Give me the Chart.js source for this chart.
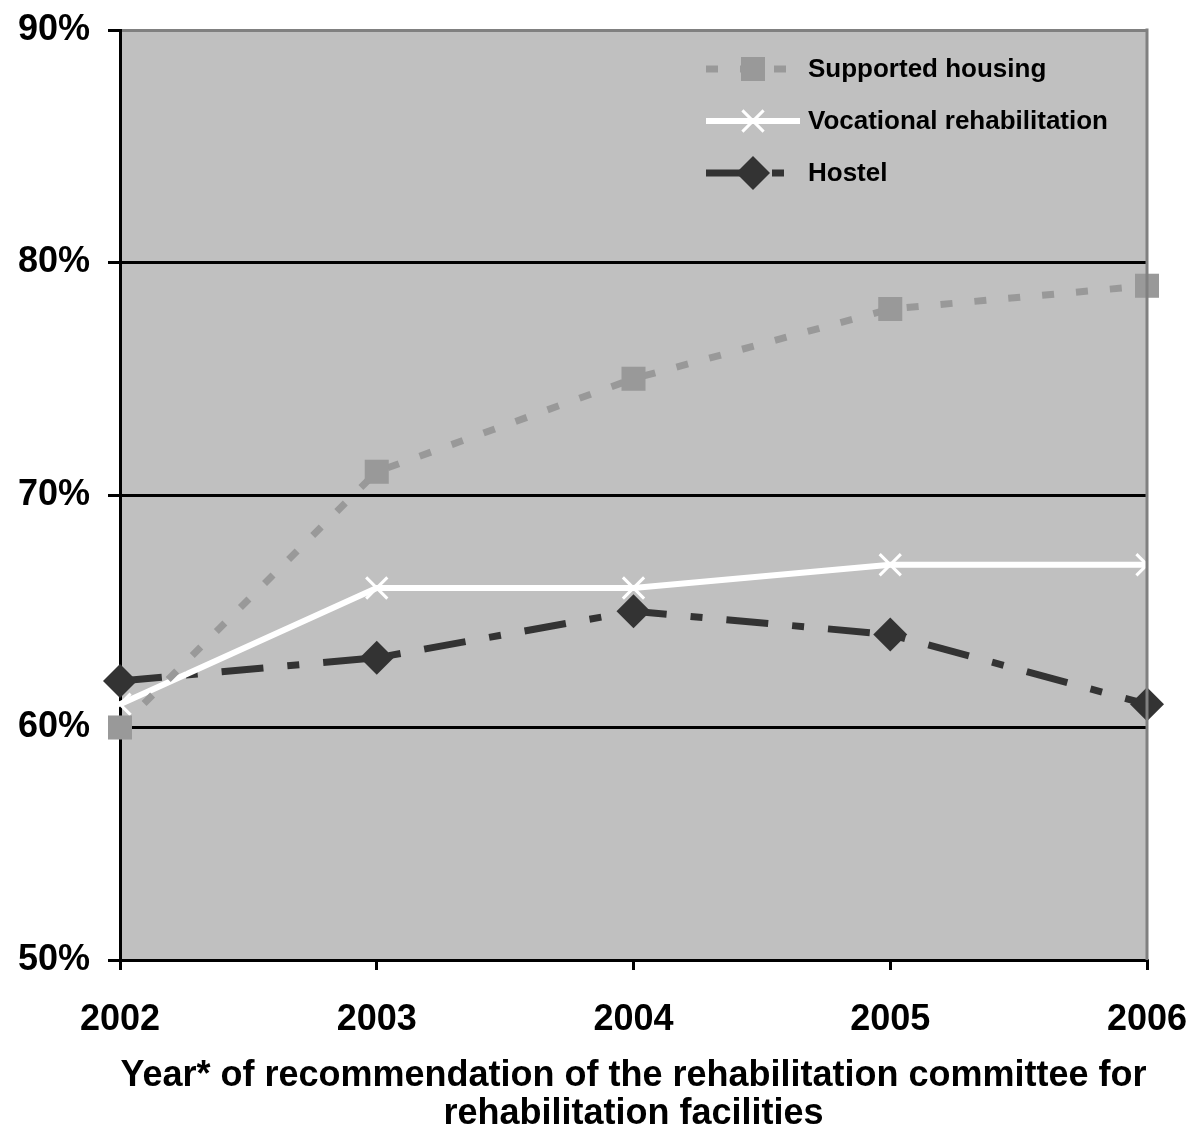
<!DOCTYPE html>
<html>
<head>
<meta charset="utf-8">
<script src="https://cdn.jsdelivr.net/npm/chart.js@4.4.0/dist/chart.umd.min.js"></script>
<style>
  html, body { margin: 0; padding: 0; background: #fff; }
  #wrap { width: 1200px; height: 1148px; }
</style>
</head>
<body>
<div id="wrap"><canvas id="chart" width="1200" height="1148"></canvas></div>
<script>
// ==========================================
// DATA
// ==========================================
const years = ['2002', '2003', '2004', '2005', '2006'];

const supported_housing = [60, 71, 75, 78, 79];
const vocational_rehab  = [61, 66, 66, 67, 67];
const hostel            = [62, 63, 65, 64, 61];

const seriesNames = ['Supported housing', 'Vocational rehabilitation', 'Hostel'];
const yTicks = [50, 60, 70, 80, 90];

const axisTitle = ['Year* of recommendation of the rehabilitation committee for', 'rehabilitation facilities'];

const FONT = 'Liberation Sans, Arial, sans-serif';

// grey plot background + grey right border
const plotBg = {
    id: 'plotBg',
    beforeDraw(chart) {
        const { ctx, chartArea: a } = chart;
        ctx.save();
        ctx.fillStyle = '#c0c0c0';
        ctx.fillRect(a.left, a.top, a.right - a.left, a.bottom - a.top);
        ctx.restore();
    },
    afterDatasetsDraw(chart) {
        const { ctx, chartArea: a } = chart;
        ctx.save();
        ctx.strokeStyle = '#808080';
        ctx.lineWidth = 3;
        ctx.beginPath();
        ctx.moveTo(a.right, a.top - 1.5);
        ctx.lineTo(a.right, a.bottom);
        ctx.stroke();
        ctx.restore();
    }
};

// legend drawn inside the plot, top right
const innerLegend = {
    id: 'innerLegend',
    afterDraw(chart) {
        const { ctx } = chart;
        const x0 = 706, x1 = 800, tx = 808;
        const ys = [69, 121, 173];
        chart.data.datasets.forEach((ds, i) => {
            const y = ys[i];
            ctx.save();
            ctx.strokeStyle = ds.borderColor;
            ctx.lineWidth = ds.borderWidth;
            ctx.setLineDash(ds.borderDash || []);
            ctx.beginPath();
            ctx.moveTo(x0, y);
            ctx.lineTo(x1, y);
            ctx.stroke();
            ctx.setLineDash([]);
            ctx.fillStyle = ds.pointBackgroundColor || ds.borderColor;
            ctx.strokeStyle = ds.pointBorderColor || ds.borderColor;
            ctx.lineWidth = ds.pointBorderWidth;
            Chart.helpers.drawPoint(ctx, {
                pointStyle: ds.pointStyle,
                radius: ds.pointRadius,
                borderWidth: ds.pointBorderWidth
            }, (x0 + x1) / 2, y);
            ctx.fillStyle = '#000';
            ctx.font = 'bold 26px ' + FONT;
            ctx.textBaseline = 'middle';
            ctx.fillText(ds.label, tx, y + 1);
            ctx.restore();
        });
    }
};

const chart = new Chart(document.getElementById('chart'), {
    type: 'line',
    data: {
        labels: years,
        datasets: [
            {
                label: seriesNames[0],
                data: supported_housing,
                borderColor: '#999999',
                backgroundColor: '#999999',
                borderWidth: 7,
                borderDash: [12, 22],
                pointStyle: 'rect',
                pointRadius: 17,
                pointBorderWidth: 0,
                pointBackgroundColor: '#999999',
                pointBorderColor: '#999999',
                tension: 0
            },
            {
                label: seriesNames[1],
                data: vocational_rehab,
                borderColor: '#ffffff',
                backgroundColor: '#ffffff',
                borderWidth: 6,
                pointStyle: 'crossRot',
                pointRadius: 15,
                pointBorderWidth: 3,
                pointBackgroundColor: '#ffffff',
                pointBorderColor: '#ffffff',
                tension: 0
            },
            {
                label: seriesNames[2],
                data: hostel,
                borderColor: '#333333',
                backgroundColor: '#333333',
                borderWidth: 7,
                borderDash: [42, 24, 12, 24],
                pointStyle: 'rectRot',
                pointRadius: 17,
                pointBorderWidth: 0,
                pointBackgroundColor: '#333333',
                pointBorderColor: '#333333',
                tension: 0
            }
        ]
    },
    options: {
        responsive: false,
        animation: false,
        layout: { autoPadding: false, padding: { top: 30, right: 53, left: 0, bottom: 0 } },
        plugins: {
            legend: { display: false },
            tooltip: { enabled: false }
        },
        scales: {
            x: {
                type: 'category',
                offset: false,
                grid: {
                    drawOnChartArea: false,
                    drawTicks: true,
                    tickLength: 10,
                    color: '#000',
                    lineWidth: 3
                },
                border: { color: '#000', width: 3 },
                ticks: {
                    color: '#000',
                    padding: 28,
                    maxRotation: 0,
                    font: { family: FONT, size: 36, weight: 'bold' }
                },
                title: {
                    display: true,
                    text: axisTitle,
                    color: '#000',
                    padding: { top: 10, bottom: 14 },
                    font: { family: FONT, size: 36, weight: 'bold', lineHeight: 1.08 }
                },
                afterFit(scale) {
                    scale.height = 188;
                    scale.paddingLeft = 0;
                    scale.paddingRight = 0;
                }
            },
            y: {
                min: 50,
                max: 90,
                afterBuildTicks(scale) {
                    scale.ticks = yTicks.map(v => ({ value: v }));
                },
                grid: {
                    color: ctx => (ctx.tick && ctx.tick.value === 90 ? '#808080' : '#000'),
                    lineWidth: 3,
                    tickLength: 12,
                    tickColor: '#000'
                },
                border: { color: '#000', width: 3 },
                ticks: {
                    color: '#000',
                    padding: 18,
                    font: { family: FONT, size: 36, weight: 'bold' },
                    callback: v => v + '%'
                },
                afterFit(scale) {
                    scale.width = 120;
                    scale.paddingTop = 0;
                    scale.paddingBottom = 0;
                }
            }
        }
    },
    plugins: [plotBg, innerLegend]
});
</script>
</body>
</html>
